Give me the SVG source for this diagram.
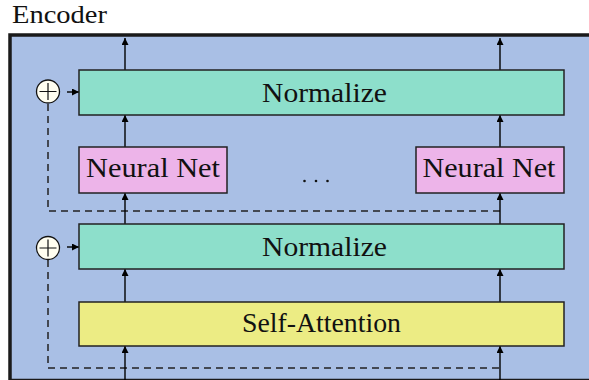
<svg xmlns="http://www.w3.org/2000/svg" width="589" height="380" viewBox="0 0 589 380">
<defs>
<marker id="ah" viewBox="0 0 10 10" refX="10" refY="5" markerWidth="7" markerHeight="7" markerUnits="userSpaceOnUse" orient="auto">
<path d="M0,0 L10,5 L0,10 z" fill="#000"/>
</marker>
<style>
.t{font-family:"Liberation Serif","DejaVu Serif",serif;fill:#111;}
.box{stroke:#222;stroke-width:1.5;}
.ar{stroke:#000;stroke-width:1.4;fill:none;marker-end:url(#ah);}
.dash{stroke:#222;stroke-width:1.5;fill:none;stroke-dasharray:7 5;}
.plus{fill:#FFFEF0;stroke:#111;stroke-width:1.3;}
</style>
</defs>
<rect width="589" height="380" fill="#fff"/>
<text class="t" x="12" y="23" font-size="25" textLength="95" lengthAdjust="spacingAndGlyphs">Encoder</text>
<g id="encoder">
<rect x="10" y="35" width="600" height="345.5" fill="#A9BFE5" stroke="#1a1a1a" stroke-width="3.5"/>
</g>
<g id="connectors">
<path class="dash" d="M48,104 V211 H500"/>
<path class="dash" d="M48,260 V368 H500"/>
<line class="ar" x1="125" y1="380" x2="125" y2="346"/>
<line class="ar" x1="500" y1="380" x2="500" y2="346"/>
<line class="ar" x1="125" y1="302" x2="125" y2="269"/>
<line class="ar" x1="500" y1="302" x2="500" y2="269"/>
<line class="ar" x1="125" y1="224" x2="125" y2="193"/>
<line class="ar" x1="500" y1="224" x2="500" y2="193"/>
<line class="ar" x1="125" y1="147" x2="125" y2="115"/>
<line class="ar" x1="500" y1="147" x2="500" y2="115"/>
<line class="ar" x1="125" y1="70" x2="125" y2="38"/>
<line class="ar" x1="500" y1="70" x2="500" y2="38"/>
<line class="ar" x1="67" y1="92" x2="79" y2="92"/>
<line class="ar" x1="67" y1="247" x2="79" y2="247"/>
</g>
<g id="norm-top">
<rect class="box" x="79" y="70" width="485" height="45" fill="#8DDFCB"/>
<text class="t" x="324.5" y="102" font-size="26.5" text-anchor="middle" textLength="125" lengthAdjust="spacingAndGlyphs">Normalize</text>
</g>
<g id="nn-left">
<rect class="box" x="79" y="147" width="148" height="46" fill="#EDB4E9"/>
<text class="t" x="153" y="177" font-size="26.5" text-anchor="middle" textLength="134" lengthAdjust="spacingAndGlyphs">Neural Net</text>
</g>
<g id="nn-right">
<rect class="box" x="416" y="147" width="148" height="46" fill="#EDB4E9"/>
<text class="t" x="489" y="177" font-size="26.5" text-anchor="middle" textLength="133" lengthAdjust="spacingAndGlyphs">Neural Net</text>
</g>
<g id="dots">
<circle cx="304.5" cy="181" r="1.3" fill="#111"/>
<circle cx="316" cy="181" r="1.3" fill="#111"/>
<circle cx="327.5" cy="181" r="1.3" fill="#111"/>
</g>
<g id="norm-bottom">
<rect class="box" x="79" y="224" width="485" height="45" fill="#8DDFCB"/>
<text class="t" x="324.5" y="256" font-size="26.5" text-anchor="middle" textLength="125" lengthAdjust="spacingAndGlyphs">Normalize</text>
</g>
<g id="self-attention">
<rect class="box" x="79" y="302" width="485" height="44" fill="#ECEC84"/>
<text class="t" x="321.5" y="332" font-size="26.5" text-anchor="middle" textLength="159" lengthAdjust="spacingAndGlyphs">Self-Attention</text>
</g>
<g id="add-top">
<circle class="plus" cx="48" cy="91.5" r="11.5"/>
<path d="M39.5,91.5 H56.5 M48,83 V100" stroke="#111" stroke-width="1.2"/>
</g>
<g id="add-bottom">
<circle class="plus" cx="48" cy="248" r="11.5"/>
<path d="M39.5,248 H56.5 M48,239.5 V256.5" stroke="#111" stroke-width="1.2"/>
</g>
</svg>
